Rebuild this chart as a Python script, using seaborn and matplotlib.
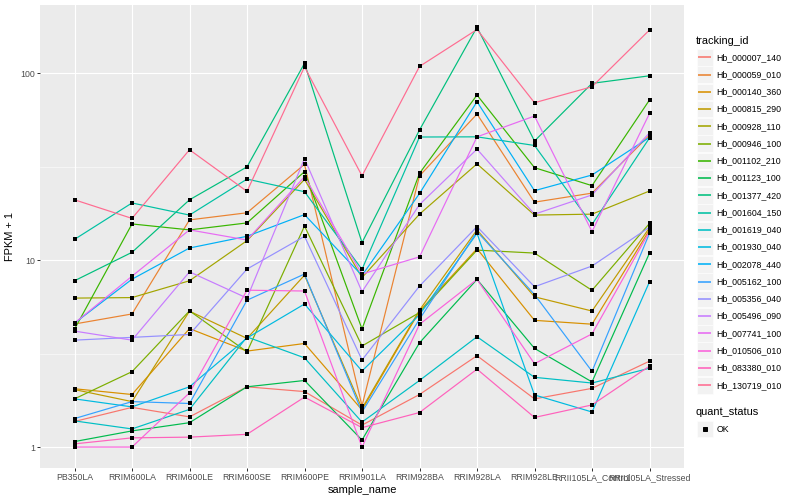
import matplotlib
matplotlib.use('Agg')
import matplotlib.pyplot as plt
import pandas as pd
import seaborn as sns
from matplotlib.ticker import FixedLocator, NullFormatter
from matplotlib.patches import Rectangle
from matplotlib.lines import Line2D

# samples on the x axis
samples = ['PB350LA', 'RRIM600LA', 'RRIM600LE', 'RRIM600SE', 'RRIM600PE', 'RRIM901LA',
           'RRIM928BA', 'RRIM928LA', 'RRIM928LE', 'RRII105LA_Control', 'RRII105LA_Stressed']

# FPKM + 1 per gene
hb_000007_140 = [1.37, 1.63, 1.45, 2.1, 1.98, 1.31, 1.91, 3.08, 1.81, 2.06, 2.88]
hb_000059_010 = [4.55, 5.15, 16.4, 17.9, 32.5, 1.66, 28.2, 60.4, 20.4, 22.8, 46.6]
hb_000140_360 = [2.05, 1.91, 4.3, 3.26, 3.58, 1.58, 5.33, 11.5, 4.76, 4.54, 14.5]
hb_000815_290 = [2.03, 1.75, 5.33, 3.81, 8.3, 1.61, 5.4, 14.5, 6.36, 5.34, 14.9]
hb_000928_110 = [6.26, 6.3, 7.75, 12.7, 27.0, 8.06, 17.6, 32.7, 17.4, 17.6, 23.4]
hb_000946_100 = [1.81, 2.53, 5.35, 3.23, 15.2, 3.47, 5.24, 11.3, 10.9, 6.89, 15.7]
hb_001102_210 = [4.27, 15.6, 14.5, 15.8, 29.7, 4.28, 29.1, 76.3, 31.2, 25.0, 71.8]
hb_001123_100 = [1.07, 1.22, 1.35, 2.1, 2.27, 1.09, 3.61, 7.88, 3.37, 2.23, 10.9]
hb_001377_420 = [7.75, 11.0, 21.0, 31.5, 112.7, 12.4, 49.6, 176, 43.3, 88.1, 96.7]
hb_001604_150 = [12.9, 20.2, 17.4, 27.1, 23.2, 8.92, 45.5, 45.6, 41.0, 15.5, 45.0]
hb_001619_040 = [1.38, 1.25, 1.59, 3.88, 3.0, 1.36, 2.27, 3.89, 2.36, 2.2, 2.64]
hb_001930_040 = [1.81, 1.64, 2.1, 3.83, 5.82, 2.55, 5.1, 13.9, 1.90, 1.54, 7.65]
hb_002078_440 = [4.6, 7.9, 11.6, 13.4, 17.5, 8.27, 22.7, 70.3, 23.5, 28.5, 45.3]
hb_005162_100 = [1.42, 1.75, 1.71, 6.1, 8.42, 1.54, 4.83, 14.2, 6.54, 2.54, 13.9]
hb_005356_040 = [3.73, 3.86, 4.0, 8.95, 13.4, 2.92, 7.26, 15.1, 7.2, 9.29, 15.0]
hb_005496_090 = [4.17, 3.73, 8.65, 6.26, 34.9, 6.77, 19.8, 39.2, 17.6, 22.3, 47.9]
hb_007741_100 = [4.6, 8.2, 14.5, 12.8, 27.9, 8.42, 10.4, 45.6, 58.9, 14.2, 60.8]
hb_010506_010 = [1.0, 1.0, 1.95, 6.9, 6.83, 1.0, 4.53, 7.88, 2.79, 4.03, 14.2]
hb_083380_010 = [1.04, 1.12, 1.13, 1.17, 1.85, 1.27, 1.53, 2.61, 1.44, 1.68, 2.71]
hb_130719_010 = [21.0, 16.7, 38.9, 23.3, 108, 28.2, 108.5, 171, 69.4, 84.5, 170]

tracking_ids = ['Hb_000007_140', 'Hb_000059_010', 'Hb_000140_360', 'Hb_000815_290',
                'Hb_000928_110', 'Hb_000946_100', 'Hb_001102_210', 'Hb_001123_100',
                'Hb_001377_420', 'Hb_001604_150', 'Hb_001619_040', 'Hb_001930_040',
                'Hb_002078_440', 'Hb_005162_100', 'Hb_005356_040', 'Hb_005496_090',
                'Hb_007741_100', 'Hb_010506_010', 'Hb_083380_010', 'Hb_130719_010']
series = [hb_000007_140, hb_000059_010, hb_000140_360, hb_000815_290, hb_000928_110,
          hb_000946_100, hb_001102_210, hb_001123_100, hb_001377_420, hb_001604_150,
          hb_001619_040, hb_001930_040, hb_002078_440, hb_005162_100, hb_005356_040,
          hb_005496_090, hb_007741_100, hb_010506_010, hb_083380_010, hb_130719_010]

# ggplot default hue palette for 20 levels
colors = ['#F8766D', '#EA8331', '#D89000', '#C09B00', '#A3A500', '#7CAE00', '#39B600',
          '#00BB4E', '#00BF7D', '#00C1A3', '#00BFC4', '#00BAE0', '#00B0F6', '#35A2FF',
          '#9590FF', '#C77CFF', '#E76BF3', '#FA62DB', '#FF62BC', '#FF6C91']
palette = dict(zip(tracking_ids, colors))

rows = []
for tid, vals in zip(tracking_ids, series):
    for s, v in zip(samples, vals):
        rows.append({'tracking_id': tid, 'sample_name': s, 'fpkm': v, 'quant_status': 'OK'})
df = pd.DataFrame(rows)

W, H = 800, 500
fig = plt.figure(figsize=(W / 72, H / 72), dpi=72)
plt.rcParams['font.family'] = ['Liberation Sans', 'DejaVu Sans']

def fx(x):
    return x / W

def fy(y):
    return 1 - y / H

ax = fig.add_axes([fx(40), fy(468), fx(684) - fx(40), fy(5) - fy(468)])
ax.set_facecolor('#EBEBEB')

sns.lineplot(data=df, x='sample_name', y='fpkm', hue='tracking_id', palette=palette,
             hue_order=tracking_ids, sort=False, estimator=None, linewidth=1.2,
             legend=False, ax=ax, zorder=3)
sns.scatterplot(data=df, x='sample_name', y='fpkm', color='black', marker='s', s=10,
                linewidth=0, legend=False, ax=ax, zorder=4)

ax.set_yscale('log')
ax.set_ylim(10 ** -0.112, 10 ** 2.364)
ax.set_xlim(-0.6, len(samples) - 0.4)
ax.yaxis.set_major_locator(FixedLocator([1, 10, 100]))
ax.set_yticklabels(['1', '10', '100'])
ax.yaxis.set_minor_locator(FixedLocator([10 ** 0.5, 10 ** 1.5]))
ax.yaxis.set_minor_formatter(NullFormatter())

ax.grid(which='major', color='white', linewidth=1.1, zorder=0)
ax.grid(which='minor', axis='y', color='white', linewidth=0.55, zorder=0)
ax.set_axisbelow(True)
for sp in ax.spines.values():
    sp.set_visible(False)
ax.tick_params(which='major', length=2.75, width=1.0, color='#333333',
               labelcolor='#4D4D4D', labelsize=8.8, pad=2)
ax.tick_params(which='minor', length=0)

ax.set_xlabel('sample_name', fontsize=11, color='black', labelpad=3)
ax.set_ylabel('FPKM + 1', fontsize=11, color='black', labelpad=5)

# legend, drawn ggplot style
fig.text(fx(696), fy(40.7), 'tracking_id', fontsize=11, va='center', ha='left')
for i, (tid, c) in enumerate(zip(tracking_ids, colors)):
    yc = 57.3 + 17.26 * i
    fig.add_artist(Rectangle((fx(696.5), fy(yc + 8.3)), fx(16.6), fy(0) - fy(16.6),
                             transform=fig.transFigure, facecolor='#F2F2F2',
                             edgecolor='white', linewidth=0.5, zorder=1))
    fig.add_artist(Line2D([fx(698.2), fx(711.4)], [fy(yc), fy(yc)],
                          transform=fig.transFigure, color=c, linewidth=1.6,
                          solid_capstyle='butt', zorder=2))
    fig.text(fx(716.5), fy(yc), tid, fontsize=8.8, va='center', ha='left')

fig.text(fx(696), fy(411.7), 'quant_status', fontsize=11, va='center', ha='left')
fig.add_artist(Rectangle((fx(696.5), fy(429 + 8.3)), fx(16.6), fy(0) - fy(16.6),
                         transform=fig.transFigure, facecolor='#F2F2F2',
                         edgecolor='white', linewidth=0.5, zorder=1))
fig.add_artist(Line2D([fx(704.8)], [fy(429)], transform=fig.transFigure, marker='s',
                      markersize=3.4, color='black', linestyle='none', zorder=2))
fig.text(fx(716.5), fy(429), 'OK', fontsize=8.8, va='center', ha='left')

fig.savefig('out.png', dpi=72, facecolor='white')
